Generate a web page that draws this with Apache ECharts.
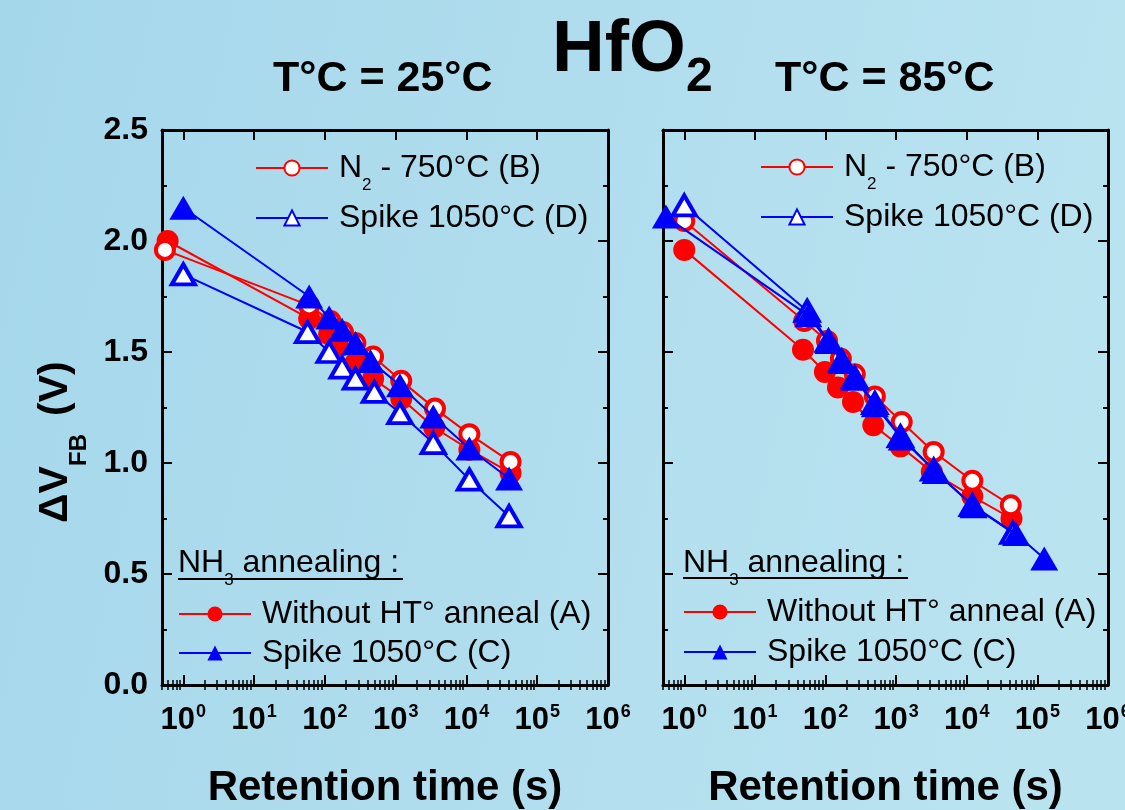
<!DOCTYPE html>
<html>
<head>
<meta charset="utf-8">
<script src="https://cdn.jsdelivr.net/npm/echarts@6/dist/echarts.min.js"></script>
<style>
html,body{margin:0;padding:0;background:#aedcee;}
#chart{width:1125px;height:810px;}
</style>
</head>
<body>
<div id="chart"></div>
<script>
// ---------- data ----------
const nameA = 'Without HT° anneal (A)';
const nameB = 'N2 - 750°C (B)';
const nameC = 'Spike 1050°C (C)';
const nameD = 'Spike 1050°C (D)';

const panelTitles = ['T°C = 25°C', 'T°C = 85°C'];
const mainTitle = 'HfO';
const mainTitleSub = '2';
const xAxisName = 'Retention time (s)';
const legendHeader = ['NH', '3', ' annealing :'];

const xMajorTicks = [1, 10, 100, 1e3, 1e4, 1e5, 1e6];
const xMin = 0.5, xMax = 1e6;
const yMin = 0, yMax = 2.5, yStep = 0.5;

// T = 25 °C
const t25_A = [0.6, 60, 115, 175, 270, 480, 1200, 3500, 11000, 42000];
const v25_A = [2.00, 1.65, 1.58, 1.53, 1.45, 1.38, 1.29, 1.16, 1.06, 0.955];
const t25_B = [0.55, 60, 120, 180, 270, 480, 1200, 3600, 11000, 42000];
const v25_B = [1.96, 1.71, 1.64, 1.59, 1.54, 1.48, 1.37, 1.245, 1.13, 1.005];
const t25_C = [1, 60, 115, 175, 270, 440, 1150, 3400, 11000, 40000];
const v25_C = [2.15, 1.75, 1.655, 1.60, 1.54, 1.46, 1.35, 1.21, 1.065, 0.93];
const t25_D = [1, 57, 115, 175, 270, 500, 1150, 3400, 11000, 40000];
const v25_D = [1.85, 1.59, 1.50, 1.43, 1.38, 1.32, 1.225, 1.09, 0.925, 0.76];

// T = 85 °C
const t85_A = [1, 48, 98, 150, 245, 475, 1150, 3200, 12000, 43000];
const v85_A = [1.96, 1.51, 1.41, 1.34, 1.275, 1.17, 1.075, 0.96, 0.85, 0.75];
const t85_B = [1, 50, 105, 165, 260, 500, 1200, 3400, 12000, 42000];
const v85_B = [2.09, 1.64, 1.55, 1.47, 1.40, 1.30, 1.185, 1.05, 0.92, 0.81];
const t85_C = [0.55, 57, 110, 170, 260, 500, 1200, 3600, 12500, 50000, 125000];
const v85_C = [2.11, 1.665, 1.545, 1.455, 1.38, 1.26, 1.11, 0.96, 0.805, 0.68, 0.57];
const t85_D = [1, 55, 110, 170, 260, 500, 1150, 3400, 12000, 45000];
const v85_D = [2.16, 1.685, 1.55, 1.46, 1.385, 1.27, 1.12, 0.97, 0.81, 0.685];

// ---------- styling ----------
const FONT = '"Liberation Sans", Arial, Helvetica, sans-serif';
const RED = '#ff0000', BLUE = '#0000ff', BLACK = '#000000';

// minor tick positions on the log axis (2..9 x 10^n, plus 0.6..0.9)
const xMinorTicks = [];
for (let e = -1; e <= 5; e++) {
  for (let k = 2; k <= 9; k++) {
    const v = k * Math.pow(10, e);
    if (v >= xMin && v <= xMax) xMinorTicks.push(v);
  }
}

const grids = [
  {left: 162, top: 130, width: 446, height: 555},
  {left: 663, top: 130, width: 445, height: 555}
];

function xAxesFor(gi) {
  const base = {
    type: 'log', logBase: 10, gridIndex: gi, min: xMin, max: xMax,
    splitLine: {show: false}, minorSplitLine: {show: false}
  };
  const major = (pos, withLabels) => Object.assign({}, base, {
    position: pos,
    axisLine: {show: true, onZero: false, lineStyle: {color: BLACK, width: 3}},
    axisTick: {show: true, inside: true, length: 10, customValues: xMajorTicks,
               lineStyle: {color: BLACK, width: 2}},
    axisLabel: withLabels ? {
      show: true, customValues: xMajorTicks, margin: 20,
      formatter: v => '{b|10}{s|' + Math.round(Math.log10(v)) + '}',
      rich: {
        b: {fontSize: 31, fontWeight: 'bold', fontFamily: FONT, color: BLACK, lineHeight: 31},
        s: {fontSize: 18, fontWeight: 'bold', fontFamily: FONT, color: BLACK, lineHeight: 18,
            padding: [0, 0, 17, 1]}
      }
    } : {show: false},
    name: withLabels ? xAxisName : '',
    nameLocation: 'middle', nameGap: 82,
    nameTextStyle: {fontSize: 42, fontWeight: 'bold', fontFamily: FONT, color: BLACK}
  });
  const minor = pos => Object.assign({}, base, {
    position: pos,
    axisLine: {show: false},
    axisTick: {show: true, inside: true, length: 5, customValues: xMinorTicks,
               lineStyle: {color: BLACK, width: 1.5}},
    axisLabel: {show: false}
  });
  return [major('bottom', true), minor('bottom'), major('top', false), minor('top')];
}

function yAxisFor(gi, pos, withLabels) {
  return {
    type: 'value', gridIndex: gi, position: pos, min: yMin, max: yMax, interval: yStep,
    axisLine: {show: true, onZero: false, lineStyle: {color: BLACK, width: 3}},
    axisTick: {show: true, inside: true, length: 10, lineStyle: {color: BLACK, width: 2}},
    minorTick: {show: true, splitNumber: 2, length: 5, lineStyle: {color: BLACK, width: 2}},
    axisLabel: withLabels ? {show: true, margin: 14, fontSize: 32, fontWeight: 'bold',
      fontFamily: FONT, color: BLACK, formatter: v => v.toFixed(1)} : {show: false},
    splitLine: {show: false}, minorSplitLine: {show: false}
  };
}

const styles = {
  A: {name: nameA, symbol: 'circle', symbolSize: 22, z: 2,
      itemStyle: {color: RED, borderWidth: 0}, lineStyle: {color: RED, width: 2}},
  B: {name: nameB, symbol: 'circle', symbolSize: 18, z: 3,
      itemStyle: {color: '#ffffff', borderColor: RED, borderWidth: 4}, lineStyle: {color: RED, width: 2}},
  D: {name: nameD, symbol: 'triangle', symbolSize: [23, 20], z: 4,
      itemStyle: {color: '#ffffff', borderColor: BLUE, borderWidth: 4}, lineStyle: {color: BLUE, width: 2}},
  C: {name: nameC, symbol: 'triangle', symbolSize: [28, 24], z: 5,
      itemStyle: {color: BLUE, borderWidth: 0}, lineStyle: {color: BLUE, width: 2}}
};

function makeSeries(key, times, vals, gi) {
  const s = styles[key];
  return {
    type: 'line', name: s.name, xAxisIndex: gi * 4, yAxisIndex: gi * 2,
    symbol: s.symbol, symbolSize: s.symbolSize, z: s.z,
    itemStyle: s.itemStyle, lineStyle: s.lineStyle, color: s.lineStyle.color,
    showAllSymbol: true, clip: false, animation: false,
    emphasis: {disabled: true},
    data: times.map((t, i) => [t, vals[i]])
  };
}

const series = [
  makeSeries('A', t25_A, v25_A, 0), makeSeries('B', t25_B, v25_B, 0),
  makeSeries('D', t25_D, v25_D, 0), makeSeries('C', t25_C, v25_C, 0),
  makeSeries('A', t85_A, v85_A, 1), makeSeries('B', t85_B, v85_B, 1),
  makeSeries('D', t85_D, v85_D, 1), makeSeries('C', t85_C, v85_C, 1)
];

const legendRich = {
  a: {fontSize: 32, fontFamily: FONT, color: BLACK, lineHeight: 32},
  s: {fontSize: 17, fontFamily: FONT, color: BLACK, lineHeight: 17, padding: [35, 0, 0, 0]}
};
function legendRow(name, left, centerY) {
  const boxH = name === nameB ? 52 : 32;
  return {
    data: [name], left: left, top: centerY - boxH / 2, orient: 'horizontal',
    padding: 0, itemWidth: 72, itemHeight: 19, selectedMode: false,
    textStyle: {fontSize: 32, fontFamily: FONT, color: BLACK, padding: [0, 0, 0, 6], rich: legendRich},
    formatter: n => n === nameB ? '{a|N}{s|2}{a| - 750°C (B)}' : '{a|' + n + '}'
  };
}

const legends = [
  legendRow(nameB, 255, 168), legendRow(nameD, 255, 218),
  legendRow(nameA, 178, 614), legendRow(nameC, 178, 653),
  legendRow(nameB, 760, 167), legendRow(nameD, 760, 217),
  legendRow(nameA, 683, 612), legendRow(nameC, 683, 652)
];

function txt(text, x, y, size, weight, rot) {
  return {
    type: 'text', x: x, y: y, rotation: rot || 0, silent: true, z: 100,
    style: {text: text, fontSize: size, fontWeight: weight, fontFamily: FONT, fill: BLACK,
            align: 'left', verticalAlign: 'middle', textAlign: 'left', textVerticalAlign: 'middle'}
  };
}
function headerText(x, y) {
  return {
    type: 'text', x: x, y: y, silent: true, z: 100,
    style: {
      text: '{a|' + legendHeader[0] + '}{s|' + legendHeader[1] + '}{a|' + legendHeader[2] + '}',
      rich: legendRich, fill: BLACK, fontFamily: FONT, fontSize: 32,
      align: 'left', verticalAlign: 'middle', textAlign: 'left', textVerticalAlign: 'middle'
    }
  };
}
function underline(x1, x2, y) {
  return {type: 'line', silent: true, z: 100, shape: {x1: x1, y1: y, x2: x2, y2: y},
          style: {stroke: BLACK, lineWidth: 2}};
}

const graphics = [
  txt(panelTitles[0], 273, 79, 43, 'bold'),
  txt(panelTitles[1], 775, 79, 43, 'bold'),
  txt(mainTitle, 552, 51, 73, 'bold'),
  txt(mainTitleSub, 686, 78, 48, 'bold'),
  // y axis title, rotated
  txt('\u0394V', 56, 523, 41, 'bold', Math.PI / 2),
  txt('FB', 79, 466, 24, 'bold', Math.PI / 2),
  txt('(V)', 56, 416, 41, 'bold', Math.PI / 2),
  headerText(178, 563), underline(178, 403, 579),
  headerText(683, 563), underline(683, 908, 578)
];

const chart = echarts.init(document.getElementById('chart'), null, {renderer: 'canvas'});
chart.setOption({
  animation: false,
  backgroundColor: {type: 'linear', x: 0, y: 0, x2: 1, y2: 0.3,
    colorStops: [{offset: 0, color: '#a5d7eb'}, {offset: 1, color: '#bae3f0'}]},
  grid: grids.map(g => Object.assign({containLabel: false, outerBoundsMode: 'none'}, g)),
  xAxis: xAxesFor(0).concat(xAxesFor(1)),
  yAxis: [yAxisFor(0, 'left', true), yAxisFor(0, 'right', false),
          yAxisFor(1, 'left', false), yAxisFor(1, 'right', false)],
  legend: legends,
  graphic: graphics,
  series: series
});
</script>
</body>
</html>
